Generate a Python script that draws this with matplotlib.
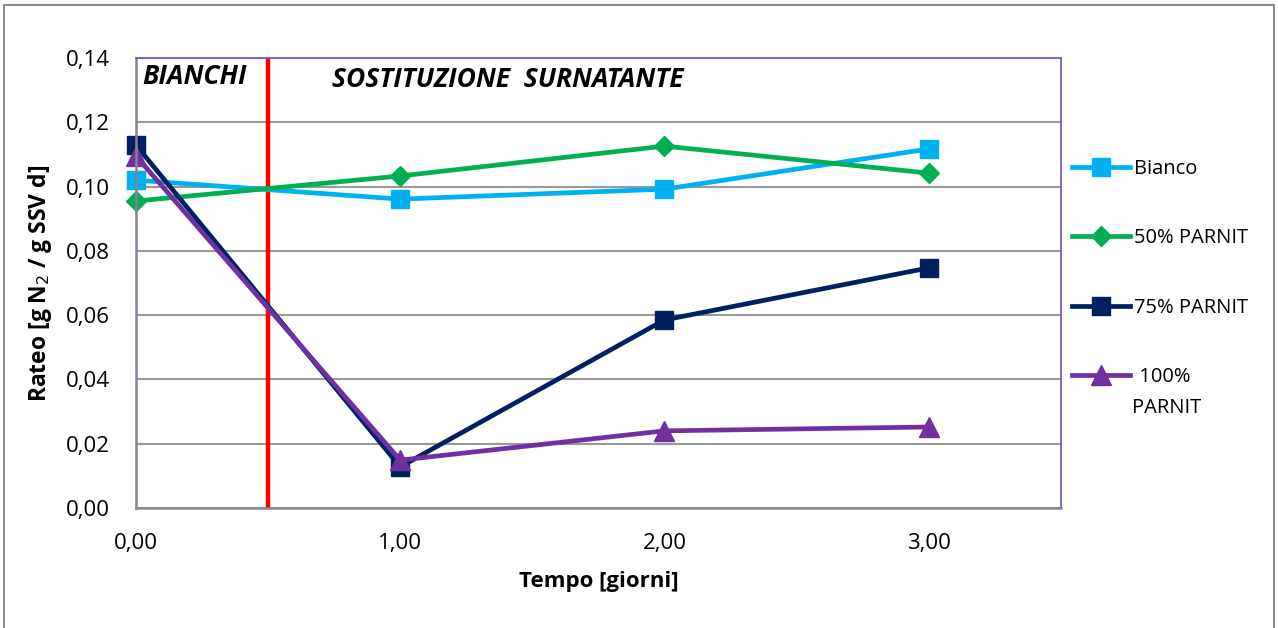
import matplotlib.pyplot as plt
from matplotlib.patches import Rectangle
from matplotlib.ticker import FuncFormatter

plt.rcParams['font.family'] = ['Open Sans', 'DejaVu Sans']

# data
tempo = [0, 1, 2, 3]
bianco = [0.1020, 0.0961, 0.0992, 0.1117]
parnit_50 = [0.0955, 0.1033, 0.1126, 0.1042]
parnit_75 = [0.1129, 0.0128, 0.0585, 0.0747]
parnit_100 = [0.1095, 0.0149, 0.0240, 0.0252]
separatore = 0.5

fig = plt.figure(figsize=(12.78, 6.28), dpi=100)
ax = fig.add_axes([0.1064, 0.1911, 0.7236, 0.7165])

# outer frame of the chart
fig.patches.append(Rectangle((0.003, -0.05), 0.994, 1.042, transform=fig.transFigure,
                             fill=False, edgecolor='#8c8c8c', linewidth=1.5))

ax.plot(tempo, bianco, color='#00B0F0', lw=3.4, marker='s', ms=13, label='Bianco', clip_on=False)
ax.plot(tempo, parnit_50, color='#00B050', lw=3.4, marker='D', ms=10, label='50% PARNIT', clip_on=False)
ax.plot(tempo, parnit_75, color='#002060', lw=3.4, marker='s', ms=13, label='75% PARNIT', clip_on=False)
ax.plot(tempo, parnit_100, color='#7030A0', lw=3.4, marker='^', ms=14, label=' 100%', clip_on=False)

ax.axvline(separatore, color='#FF0000', lw=3.2, zorder=1)

ax.set_xlim(0, 3.5)
ax.set_ylim(0, 0.14)
ax.set_xticks([0, 1, 2, 3])
ax.set_yticks([0, 0.02, 0.04, 0.06, 0.08, 0.10, 0.12, 0.14])
comma = FuncFormatter(lambda v, p: f'{v:.2f}'.replace('.', ','))
ax.xaxis.set_major_formatter(comma)
ax.yaxis.set_major_formatter(comma)
ax.tick_params(length=0, labelsize=16, colors='black')
ax.tick_params(axis='x', pad=18)
ax.tick_params(axis='y', pad=19)
ax.grid(axis='y', color='#9a9a9a', lw=1.5)
ax.set_axisbelow(True)

for s in ['top', 'right']:
    ax.spines[s].set_color('#7b4fa8')
    ax.spines[s].set_linewidth(1.2)
ax.spines['left'].set_color('#8a7f94')
ax.spines['left'].set_linewidth(1.8)
ax.spines['bottom'].set_color('#8a8a8a')
ax.spines['bottom'].set_linewidth(1.8)

ax.set_xlabel('Tempo [giorni]', fontsize=16, fontweight='bold', labelpad=12)
ax.set_ylabel('Rateo [g N$_2$ / g SSV d]', fontsize=16.5, fontweight='bold', labelpad=8)

ax.text(0.025, 0.1385, 'BIANCHI', fontsize=19, fontweight='bold', style='italic', va='top')
ax.text(0.74, 0.1375, 'SOSTITUZIONE  SURNATANTE', fontsize=19, fontweight='bold',
        style='italic', va='top')

ax.legend(loc='center left', bbox_to_anchor=(1072 / 1278, 0.5653),
          bbox_transform=fig.transFigure, frameon=False, fontsize=14.5,
          handlelength=2.9, handletextpad=0.2, labelspacing=2.45,
          borderpad=0, borderaxespad=0)
# second line of the last legend label
fig.text(1132 / 1278, (628 - 408) / 628, 'PARNIT', fontsize=14.5, va='center')

fig.savefig('out.png', dpi=100)
